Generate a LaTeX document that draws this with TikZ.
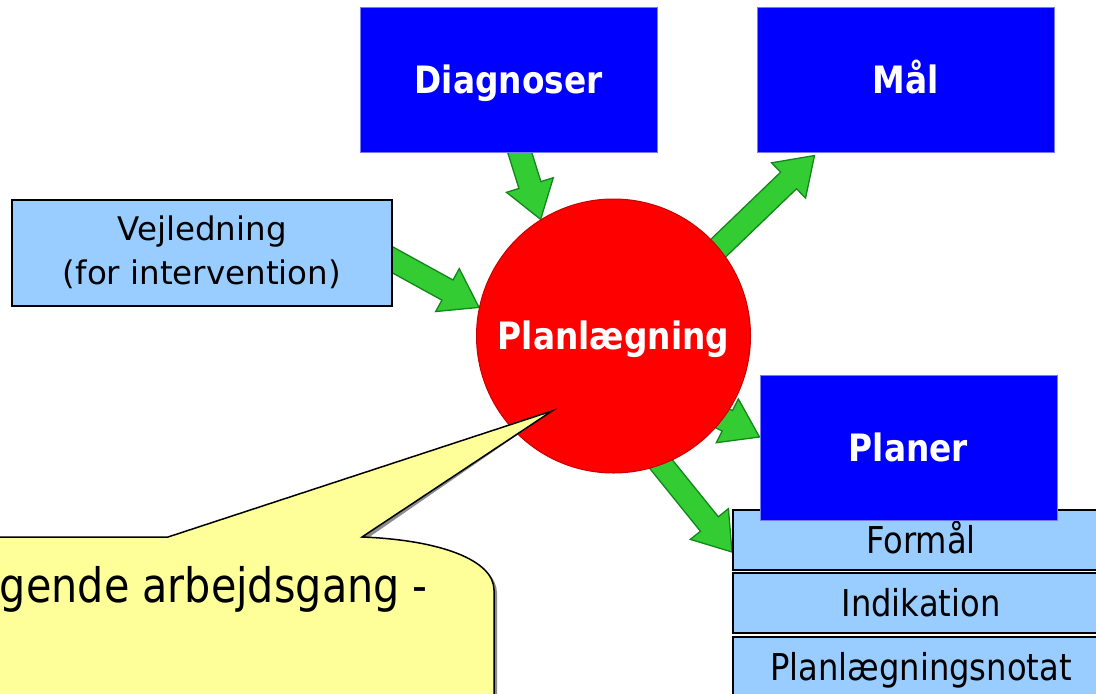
\documentclass[tikz,border=0pt]{standalone}
\usepackage{fontspec}
\setmainfont{DejaVu Sans}
\newfontfamily\tah[FakeStretch=0.87]{DejaVu Sans}
\usetikzlibrary{calc}
\definecolor{pblue}{HTML}{0000FF}
\definecolor{pblueedge}{HTML}{7878FF}
\definecolor{lb}{HTML}{99CCFF}
\definecolor{agreen}{HTML}{33CC33}
\definecolor{agreenedge}{HTML}{13861B}
\definecolor{pred}{HTML}{FF0000}
\definecolor{prededge}{HTML}{C80000}
\definecolor{cyellow}{HTML}{FFFF99}
\pgfdeclarelayer{bg}
\pgfsetlayers{bg,main}
\newcommand{\blockarrow}[2]{%
  \coordinate (bah) at ($(#2)!36pt!(#1)$);
  \filldraw[garrow] ($(#1)!11.5pt!90:(#2)$) -- ($(bah)!11.5pt!90:(#2)$) -- ($(bah)!24.5pt!90:(#2)$) -- (#2)
    -- ($(bah)!24.5pt!-90:(#2)$) -- ($(bah)!11.5pt!-90:(#2)$) -- ($(#1)!11.5pt!-90:(#2)$) -- cycle;
}
\begin{document}
\begin{tikzpicture}[x=1pt,y=-1pt,
  bluebox/.style={fill=pblue, draw=pblueedge, line width=1pt, minimum width=297pt, minimum height=145pt,
    inner sep=0pt, text=white, font=\tah\bfseries\fontsize{37.7}{45}\selectfont, text height=27.5pt, text depth=0pt},
  circ/.style={circle, fill=pred, draw=prededge, line width=1pt, minimum size=274pt, inner sep=0pt,
    text=white, font=\tah\bfseries\fontsize{37.7}{45}\selectfont, text height=27.5pt, text depth=0pt},
  itembox/.style={fill=lb, draw=black, line width=2pt, minimum width=376pt, minimum height=60pt, inner sep=0pt,
    font=\tah\fontsize{37}{44}\selectfont, text height=27pt, text depth=0pt},
  vejbox/.style={fill=lb, draw=black, line width=2pt, minimum width=380pt, minimum height=106pt, inner sep=0pt,
    align=center, font=\fontsize{32.5}{44}\selectfont},
  garrow/.style={fill=agreen, draw=agreenedge, line width=1.3pt, line join=miter},
  callout/.style={fill=cyellow, draw=black, line width=1.5pt, line join=miter},
  calloutshadow/.style={fill=black!45},
  callouttext/.style={font=\tah\fontsize{47.5}{57}\selectfont, inner sep=0pt}
]
\useasboundingbox (0,0) rectangle (1096,694);
\clip (0,0) rectangle (1096,694);

\node[bluebox] (dia) at (508.5,79.5) {Diagnoser};
\node[bluebox] (mal) at (905.5,79.5) {Mål};
\node[vejbox] (vej) at (202,252.5) {Vejledning\\(for intervention)};
\node[circ] (plan) at (613.5,336) {Planlægning};
\node[itembox] (formal) at (921,540) {Formål};
\node[itembox] (indik) at (921,603) {Indikation};
\node[itembox] (notat) at (921,667) {Planlægningsnotat};
\node[bluebox] (planer) at (908.5,447.5) {Planer};

\coordinate (t1) at ($(dia.south)+(7.5,-12)$);
\coordinate (h1) at (plan.122.5);
\coordinate (t2) at ($(vej.east)+(-12,1)$);
\coordinate (h2) at (plan.168);
\coordinate (t3) at ($(plan.center)+(93.5,-77)$);
\coordinate (h3) at ($(mal.south west)+(58,3)$);
\coordinate (t4) at ($(plan.center)+(74.5,65)$);
\coordinate (h4) at ($(planer.west)+(0,-10.5)$);
\coordinate (t5) at ($(plan.center)+(24,99)$);
\coordinate (h5) at ($(formal.west)+(0,12)$);

\begin{pgfonlayer}{bg}
\blockarrow{t1}{h1}
\blockarrow{t2}{h2}
\blockarrow{t3}{h3}
\blockarrow{t4}{h4}
\blockarrow{t5}{h5}
\end{pgfonlayer}

% callout
\coordinate (ctip) at ($(plan.center)+(-61.5,75)$);
\fill[calloutshadow, shift={(3,3)}] (-20,537) -- (168,537) -- (ctip) -- (362,537)
  .. controls (440,540) and (494,560) .. (494,590) -- (494,720) -- (-20,720) -- cycle;
\filldraw[callout] (-20,537) -- (168,537) -- (ctip) -- (362,537)
  .. controls (440,540) and (494,560) .. (494,590) -- (494,720) -- (-20,720) -- cycle;
\node[callouttext, anchor=base east] (calltext) at (428,602) {gende arbejdsgang -};
\end{tikzpicture}
\end{document}
